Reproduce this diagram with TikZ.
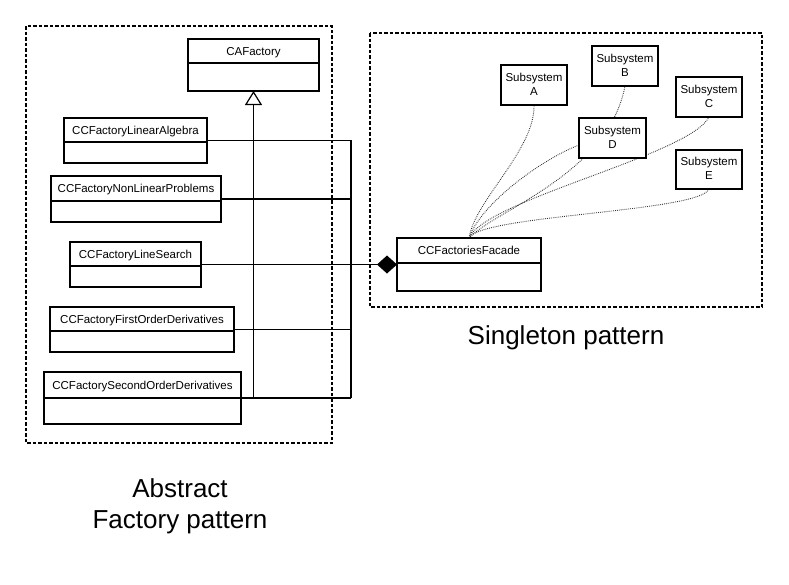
\documentclass[tikz,border=0pt]{standalone}
\usepackage{fontspec}
\setmainfont{Liberation Sans}
\usetikzlibrary{arrows.meta,backgrounds}
\tikzset{
  classbox/.style={draw, line width=1.4pt, fill=white, inner sep=0pt, outer sep=0pt},
  classtext/.style={inner sep=0pt, anchor=base, font=\fontsize{11.5}{13}\selectfont},
  subbox/.style={draw, line width=1.4pt, fill=white, inner sep=0pt, outer sep=0pt},
  conn/.style={line width=1.4pt},
  frame/.style={line width=1.2pt, dash pattern=on 3.5pt off 2pt},
  dotlink/.style={line width=0.9pt, dash pattern=on 0.8pt off 1.1pt, black!80},
  biglabel/.style={inner sep=0pt, font=\fontsize{26}{30}\selectfont}
}
\newcommand\umlclassbox[7]{%
  \node[classbox, minimum width={#4-#2}, minimum height={#6-#3}, anchor=north west] (#1) at (#2,#3) {};
  \draw[line width=1.4pt] (#2,#5) -- (#4,#5);
  \node[classtext] (#1-t) at ({(#2+#4)/2},{(#3+#5)/2+4}) {#7};
}
\newcommand\subsysbox[6]{%
  \node[subbox, minimum width={#4-#2}, minimum height={#5-#3}, anchor=north west] (#1) at (#2,#3) {};
  \node[inner sep=0pt, align=center, font=\fontsize{11.5}{14}\selectfont] (#1-t) at ({(#2+#4)/2},{(#3+#5)/2-1}) {Subsystem\\#6};
}
\begin{document}
\begin{tikzpicture}[x=1pt,y=-1pt]
\useasboundingbox (0,0) rectangle (789,584);
% frames
\draw[frame] (26,26) rectangle (332,443);
\draw[frame] (370,33) rectangle (762,307);
% abstract factory classes
\umlclassbox{caf}{188}{39}{319}{63}{91}{CAFactory}
\umlclassbox{la}{64}{118}{207}{142}{163}{CCFactoryLinearAlgebra}
\umlclassbox{nl}{51}{176}{221}{201}{222}{CCFactoryNonLinearProblems}
\umlclassbox{ls}{70}{242}{201}{266}{287}{CCFactoryLineSearch}
\umlclassbox{fo}{50}{307}{234}{331}{352}{CCFactoryFirstOrderDerivatives}
\umlclassbox{so}{44}{372}{241}{398}{424}{CCFactorySecondOrderDerivatives}
% facade
\umlclassbox{fac}{397}{238}{541}{263}{291}{CCFactoriesFacade}
% subsystems
\subsysbox{sa}{501}{65}{567}{105}{A}
\subsysbox{sb}{592}{46}{658}{86}{B}
\subsysbox{sc}{676}{77}{742}{117}{C}
\subsysbox{sd}{579}{118}{646}{158}{D}
\subsysbox{se}{676}{150}{742}{189}{E}
% bus connectors
\coordinate (busBot) at (351,398);
\draw[conn] (la.east) -| (busBot);
\draw[conn] (nl.east) -- (nl.east -| busBot);
\draw[conn] (fo.east) -- (fo.east -| busBot);
\draw[conn] (so.east) -- (busBot);
\draw[conn, -{Triangle[open, length=14pt, width=17pt, line width=1.2pt]}] (so.east -| caf.south) -- (caf.south);
\draw[conn, -{Diamond[length=20pt, width=18pt]}] (ls.east) -- (fac.west);
% dotted links
\begin{scope}[on background layer]
\draw[dotlink] (fac.north) .. controls (475,200) and (535,150) .. (sa.south);
\draw[dotlink] (fac.north) .. controls (495,210) and (608,175) .. (sb.south);
\draw[dotlink] (fac.north) .. controls (480,205) and (540,160) .. ([yshift=-7pt]sd.west);
\draw[dotlink] (fac.north) .. controls (485,200) and (690,155) .. (sc.south);
\draw[dotlink] (fac.north) .. controls (480,215) and (700,212) .. (se.south);
\end{scope}
% labels
\node[biglabel, anchor=base] (lblS) at (566,344) {Singleton pattern};
\node[biglabel, anchor=base] (lblA1) at (180,497) {Abstract};
\node[biglabel, anchor=base] (lblA2) at (180,528) {Factory pattern};
\end{tikzpicture}
\end{document}
